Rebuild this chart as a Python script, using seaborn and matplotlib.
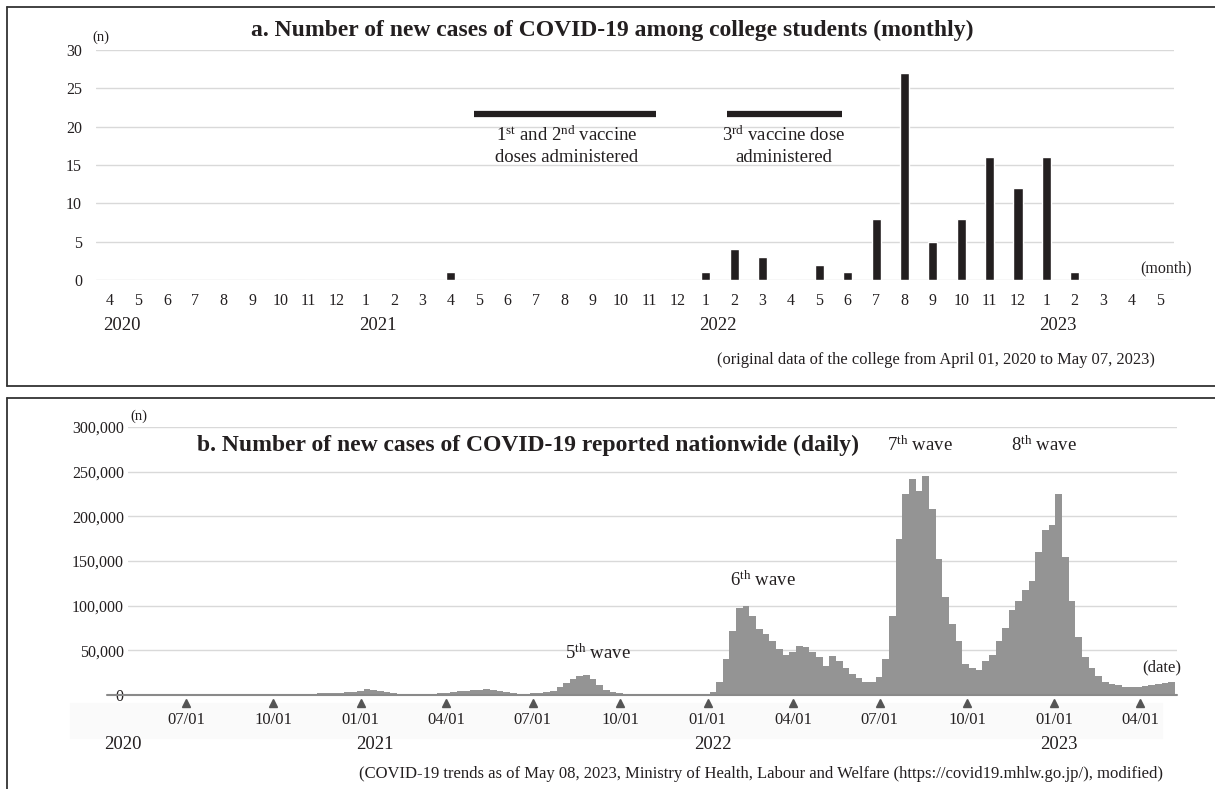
import numpy as np
import pandas as pd
import matplotlib
matplotlib.use("Agg")
import matplotlib.pyplot as plt
import matplotlib.dates as mdates
from matplotlib.lines import Line2D
from matplotlib.patches import Rectangle
import seaborn as sns

### data

# a. college students, monthly (Apr 2020 - May 2023)
month_labels = [4, 5, 6, 7, 8, 9, 10, 11, 12,
                1, 2, 3, 4, 5, 6, 7, 8, 9, 10, 11, 12,
                1, 2, 3, 4, 5, 6, 7, 8, 9, 10, 11, 12,
                1, 2, 3, 4, 5]
college_cases = [0, 0, 0, 0, 0, 0, 0, 0, 0,
                 0, 0, 0, 1, 0, 0, 0, 0, 0, 0, 0, 0,
                 1, 4, 3, 0, 2, 1, 8, 27, 5, 8, 16, 12,
                 16, 1, 0, 0, 0]
year_labels_a = ["2020", "2021", "2022", "2023"]
year_start_idx = [0, 9, 21, 33]
# vaccination periods (month index, start / end)
vax_start = [12.83, 21.74]
vax_end = [19.24, 25.79]

# b. nationwide, weekly (weeks starting Monday 2020-05-04)
wk_2020 = [150, 80, 50, 40,
           40, 50, 60, 100, 200,
           300, 500, 800, 1200,
           1400, 1200, 1000, 800, 600,
           550, 550, 500, 550,
           550, 600, 650, 750,
           1000, 1500, 2100, 2200, 2300,
           2500, 3000, 3300, 4000]
wk_2021 = [6500, 6000, 4500, 3200,
           2200, 1600, 1300, 1100,
           1100, 1200, 1400, 1700, 2300,
           3000, 4000, 4800, 5300,
           5500, 6300, 5300, 4200, 3000,
           2200, 1600, 1500, 1700,
           2100, 2900, 4500, 8500,
           13500, 17500, 21500, 22000, 18000,
           11000, 6000, 3500, 1800,
           900, 600, 350, 250,
           200, 180, 150, 130, 120,
           130, 160, 250, 450]
wk_2022 = [3000, 15000, 40000, 72000, 97000,
           100000, 88000, 74000, 68000,
           60000, 52000, 45000, 48000,
           55000, 54000, 48000, 42000,
           32000, 44000, 38000, 30000, 24000,
           19000, 15000, 14000, 20000,
           40000, 88000, 175000, 225000,
           242000, 228000, 245000, 208000, 152000,
           110000, 80000, 60000, 35000,
           30000, 28000, 38000, 45000, 60000,
           75000, 95000, 105000, 118000,
           128000, 160000, 185000, 190000]
wk_2023 = [225000, 155000, 105000, 65000, 42000,
           30000, 21000, 15000, 12000,
           11000, 9500, 9000, 9500,
           10000, 11000, 12500, 13000,
           14000]
tick_dates_b = ["2020-07-01", "2020-10-01", "2021-01-01", "2021-04-01",
                "2021-07-01", "2021-10-01", "2022-01-01", "2022-04-01",
                "2022-07-01", "2022-10-01", "2023-01-01", "2023-04-01"]
year_labels_b = ["2020", "2021", "2022", "2023"]
wave_labels = ["5", "6", "7", "8"]

### style
sns.set_style("white")
plt.rcParams['font.family'] = ['Liberation Serif', 'DejaVu Serif']
plt.rcParams['mathtext.fontset'] = 'custom'
plt.rcParams['mathtext.rm'] = 'Liberation Serif'
plt.rcParams['mathtext.default'] = 'regular'
ink = '#231f20'
grid_c = '#d9d9d9'

W, H = 1215, 789
def fx(px):
    return px / W
def fy(py):
    return 1 - py / H

fig = plt.figure(figsize=(W / 100, H / 100), dpi=100)

### panel a
ax_a = fig.add_axes([fx(96), fy(280), fx(1174) - fx(96), fy(50) - fy(280)])
df_a = pd.DataFrame({'idx': range(len(college_cases)), 'n': college_cases})
sns.barplot(data=df_a, x='idx', y='n', color=ink, saturation=1, width=0.32,
            ax=ax_a)
ax_a.set_ylim(0, 30)
ax_a.set_yticks(range(0, 31, 5))
ax_a.set_xlim(-0.5, len(college_cases) - 0.5)
ax_a.set_xticks(range(len(month_labels)))
ax_a.set_xticklabels(month_labels)
ax_a.grid(axis='y', color=grid_c, lw=1)
ax_a.set_axisbelow(True)
sns.despine(ax=ax_a, left=True, bottom=True)
ax_a.tick_params(axis='x', length=0, pad=9, labelsize=11.5, labelcolor=ink)
ax_a.tick_params(axis='y', length=0, pad=10, labelsize=11.5, labelcolor=ink)
ax_a.set_xlabel("")
ax_a.set_ylabel("")

for s, e in zip(vax_start, vax_end):
    ax_a.plot([s, e], [21.65, 21.65], color=ink, lw=4.5, solid_capstyle='butt')
ax_a.text(16.1, 18.9, r"1$^{st}$ and 2$^{nd}$ vaccine", ha='center', va='center',
          fontsize=13.5, color=ink)
ax_a.text(16.1, 16.0, "doses administered", ha='center', va='center',
          fontsize=13.5, color=ink)
ax_a.text(23.75, 18.9, r"3$^{rd}$ vaccine dose", ha='center', va='center',
          fontsize=13.5, color=ink)
ax_a.text(23.75, 16.0, "administered", ha='center', va='center',
          fontsize=13.5, color=ink)

for lab, i in zip(year_labels_a, year_start_idx):
    ax_a.text(i + 0.42, -0.196, lab, transform=ax_a.get_xaxis_transform(),
              ha='center', va='center', fontsize=13.5, color=ink)

fig.text(fx(612), fy(30), "a. Number of new cases of COVID-19 among college students (monthly)",
         ha='center', va='center', fontsize=17, fontweight='bold', color=ink)
fig.text(fx(101), fy(37), "(n)", ha='center', va='center', fontsize=10.5, color=ink)
fig.text(fx(1166), fy(268), "(month)", ha='center', va='center', fontsize=11.5, color=ink)
fig.text(fx(1155), fy(360), "(original data of the college from April 01, 2020 to May 07, 2023)",
         ha='right', va='center', fontsize=11.9, color=ink)

### panel b
weekly = wk_2020 + wk_2021 + wk_2022 + wk_2023
weeks = pd.date_range("2020-05-04", periods=len(weekly), freq='7D')
df_b = pd.DataFrame({'x': mdates.date2num(weeks) + 3.5, 'n': weekly})

# faint band behind the date labels
fig.patches.append(Rectangle((fx(70), fy(738)), fx(1162) - fx(70), fy(703) - fy(738),
                             transform=fig.transFigure, color='#fafafa', zorder=-10))

ax_b = fig.add_axes([fx(128), fy(695), fx(1177) - fx(128), fy(427) - fy(695)])
ax_b.patch.set_alpha(0)
sns.barplot(data=df_b, x='x', y='n', native_scale=True, color='#949494',
            saturation=1, width=1, linewidth=0, ax=ax_b)
ax_b.set_ylim(0, 300000)
ax_b.set_yticks(range(0, 300001, 50000))
ax_b.set_yticklabels([f"{v:,}" for v in range(0, 300001, 50000)])
ax_b.set_xlim(mdates.date2num(pd.Timestamp("2020-05-01")),
              mdates.date2num(pd.Timestamp("2023-05-10")))
tk = pd.to_datetime(tick_dates_b)
ax_b.set_xticks(mdates.date2num(tk))
ax_b.set_xticklabels([d.strftime("%m/%d") for d in tk])
ax_b.grid(axis='y', color=grid_c, lw=1)
ax_b.set_axisbelow(True)
sns.despine(ax=ax_b, left=True, bottom=True, top=True, right=True)
ax_b.tick_params(axis='x', length=0, pad=12.5, labelsize=12, labelcolor=ink)
ax_b.tick_params(axis='y', length=0, pad=3, labelsize=11.5, labelcolor=ink)
ax_b.set_xlabel("")
ax_b.set_ylabel("")
ax_b.axhline(0, xmin=-0.02, xmax=1, color='#8a8a8a', lw=1.5, clip_on=False)
ax_b.plot(mdates.date2num(tk), [-0.03] * len(tk), '^', color='#555555', ms=5.5,
          transform=ax_b.get_xaxis_transform(), clip_on=False)

year_pos_b = pd.to_datetime(["2020-04-26", "2021-01-16", "2022-01-07", "2023-01-06"])
for lab, d in zip(year_labels_b, year_pos_b):
    ax_b.text(mdates.date2num(d), -0.183, lab, transform=ax_b.get_xaxis_transform(),
              ha='center', va='center', fontsize=13.5, color=ink)

fig.text(fx(528), fy(445), "b. Number of new cases of COVID-19 reported nationwide (daily)",
         ha='center', va='center', fontsize=17, fontweight='bold', color=ink)
fig.text(fx(139), fy(416), "(n)", ha='center', va='center', fontsize=10.5, color=ink)
fig.text(fx(1162), fy(667), "(date)", ha='center', va='center', fontsize=12, color=ink)
wave_xy = [(598, 653), (763, 580), (920, 445), (1044, 445)]
for w, (px, py) in zip(wave_labels, wave_xy):
    fig.text(fx(px), fy(py), w + r"$^{th}$ wave", ha='center', va='center',
             fontsize=13.5, color=ink)
fig.text(fx(1163), fy(774),
         "(COVID-19 trends as of May 08, 2023, Ministry of Health, Labour and Welfare "
         "(https://covid19.mhlw.go.jp/), modified)",
         ha='right', va='center', fontsize=12, color=ink)

### panel frames
frame_c = '#333333'
for xs, ys in [([7, 1215], [7, 7]), ([7, 7], [7, 386]), ([7, 1215], [386, 386]),
               ([7, 1215], [398, 398]), ([7, 7], [398, 789])]:
    fig.add_artist(Line2D([fx(x) for x in xs], [fy(y) for y in ys], color=frame_c, lw=1.3))

fig.savefig("out.png", dpi=100)
